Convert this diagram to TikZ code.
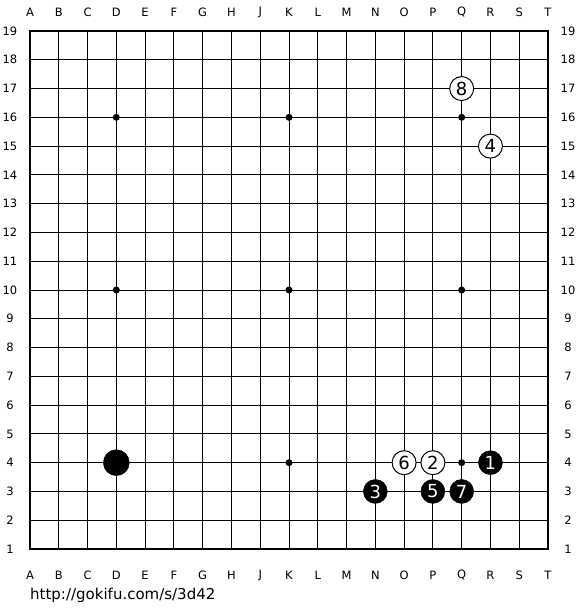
\documentclass[tikz,border=0pt]{standalone}
\usepackage{fontspec}
\setmainfont{DejaVu Sans}
\begin{document}
\begin{tikzpicture}[x=1pt,y=-1pt,
  lbl/.style={font=\fontsize{11.5}{11.5}\selectfont, inner sep=0pt},
  bst/.style={circle, fill=black, draw=black, minimum size=24pt, inner sep=0pt, text=white, font=\fontsize{18}{18}\selectfont},
  wst/.style={circle, fill=white, draw=black, line width=1pt, minimum size=24pt, inner sep=0pt, text=black, font=\fontsize{18}{18}\selectfont},
  hoshi/.style={circle, fill=black, minimum size=7pt, inner sep=0pt}]
\useasboundingbox (0,0) rectangle (580,610);
\fill[white] (0,0) rectangle (580,610);
\def\sp{28.778}
\foreach \i in {1,...,17} {
  \draw[line width=1pt] ({30+\i*\sp},31) -- ({30+\i*\sp},549);
  \draw[line width=1pt] (30,{31+\i*\sp}) -- (548,{31+\i*\sp});
}
\draw[line width=2pt] (30,31) rectangle (548,549);
\foreach \l [count=\i from 0] in {A,B,C,D,E,F,G,H,J,K,L,M,N,O,P,Q,R,S,T} {
  \node[lbl] (top\l) at ({30+\i*\sp},12) {\l};
  \node[lbl] (bot\l) at ({30+\i*\sp},575) {\l};
}
\foreach \r in {1,...,19} {
  \node[lbl] (left\r) at (10,{31+(19-\r)*\sp}) {\r};
  \node[lbl] (right\r) at (568,{31+(19-\r)*\sp}) {\r};
}
\foreach \c/\r [count=\k] in {3/3,9/3,15/3,3/9,9/9,15/9,3/15,9/15,15/15} {
  \node[hoshi] (h\k) at ({30+\c*\sp},{31+\r*\sp}) {};
}
\node[bst, minimum size=26pt] (D4) at ({30+3*\sp},{31+15*\sp}) {};
\node[bst] (s1) at ({30+16*\sp},{31+15*\sp}) {1};
\node[wst] (s2) at ({30+14*\sp},{31+15*\sp}) {2};
\node[bst] (s3) at ({30+12*\sp},{31+16*\sp}) {3};
\node[wst] (s4) at ({30+16*\sp},{31+4*\sp}) {4};
\node[bst] (s5) at ({30+14*\sp},{31+16*\sp}) {5};
\node[wst] (s6) at ({30+13*\sp},{31+15*\sp}) {6};
\node[bst] (s7) at ({30+15*\sp},{31+16*\sp}) {7};
\node[wst] (s8) at ({30+15*\sp},{31+2*\sp}) {8};
\node[anchor=west, inner sep=0pt, font=\fontsize{15}{15}\selectfont] (url) at (30,595) {http://gokifu.com/s/3d42};
\end{tikzpicture}
\end{document}
